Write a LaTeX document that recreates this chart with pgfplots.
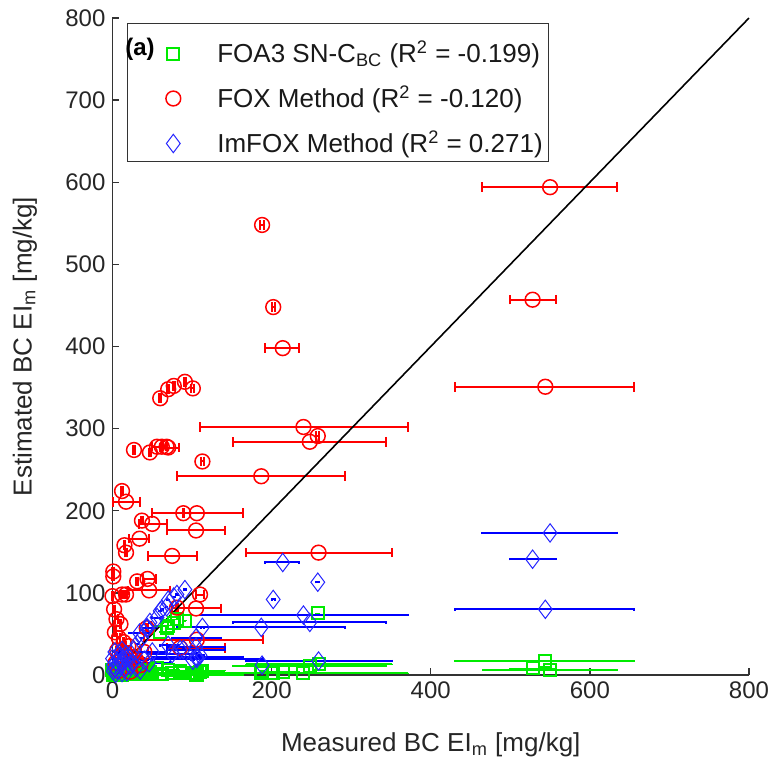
\documentclass[border=0pt]{standalone}
\usepackage{fontspec}
\setmainfont{Liberation Sans}
\usepackage{pgfplots}
\pgfplotsset{compat=1.18}
\usepackage{pgfplotstable}
\definecolor{mgreen}{RGB}{0,235,0}

\pgfplotstableread{
x y xm xp
550 594 85 84
528 457 29 29
544 351 114 112
240 302 130 131
248 284 97 96
258 291 2 2
214 398 22 21
202 448 2 2
188 548 2 2
187 242 106 105
259 149 91 92
113 260 2 2
60 337 1 1
70 348 1 1
77 352 1 1
91 357 1 1
101 349 2 2
27 274 1 1
47 271 1 1
56 278 6 6
62 278 1 1
68 278 1 1
70 277 10 14
12 224 1 1
17 211 16 17
106 197 56 58
89 197 1 1
37 188 1 1
50 184 17 18
105 176 37 37
34 166 13 12
15 158 1 1
17 149 1 1
75 145 30 31
1 126 1 1
1 120 1 1
31 114 1 1
44 117 6 11
46 103 26 26
0 96 1 1
12 98 1 1
17 98 1 1
110 98 5 5
105 81 30 32
81 82 1 1
106 43 66 83
85 33 17 56
43 57 1 1
2 80 1 1
5 68 2 2
10 62 1 1
3 52 1 1
8 45 2 2
14 40 1 1
20 35 3 3
6 30 1 1
12 25 2 2
25 22 5 5
30 18 2 2
4 15 1 1
18 10 4 4
35 12 6 6
8 5 1 1
22 4 3 3
40 28 4 4
}\redtab

\pgfplotstableread{
x y xm xp
550 173 85 84
528 141 29 29
544 80 114 112
240 73 130 131
248 64 97 96
258 113 2 2
214 137 22 21
202 92 2 2
188 12 2 2
187 58 106 105
259 17 91 92
113 58 2 2
60 78 1 1
70 91 1 1
77 95 1 1
91 104 1 1
101 18 2 2
27 30 1 1
47 64 1 1
56 70 6 6
62 80 1 1
68 83 1 1
70 36 10 14
12 14 1 1
17 20 16 17
106 22 56 58
89 31 1 1
37 45 1 1
50 28 17 18
105 34 37 37
34 51 13 12
15 8 1 1
17 25 1 1
75 26 30 31
1 5 1 1
1 12 1 1
31 38 1 1
44 57 6 11
46 15 26 26
0 20 1 1
12 3 1 1
17 10 1 1
110 24 5 5
105 45 30 32
81 98 1 1
106 20 66 83
85 31 17 56
43 57 1 1
2 8 1 1
5 16 2 2
10 22 1 1
3 28 1 1
8 12 2 2
14 18 1 1
20 22 3 3
6 6 1 1
12 30 2 2
25 14 5 5
30 9 2 2
4 2 1 1
18 4 4 4
35 6 6 6
8 26 1 1
22 12 3 3
40 18 4 4
}\bluetab

\pgfplotstableread{
x y xm xp
550 6 85 84
528 8 29 29
544 17 114 112
240 2 130 131
248 11 97 96
258 75 2 2
214 4 22 21
202 3 2 2
188 5 2 2
187 2 106 105
259 13 91 92
113 5 2 2
60 52 1 1
70 60 1 1
77 63 1 1
91 66 1 1
101 3 2 2
27 2 1 1
47 4 1 1
56 8 6 6
62 1 1 1
68 57 1 1
70 6 10 14
12 2 1 1
17 5 16 17
106 0 56 58
89 2 1 1
37 3 1 1
50 1 17 18
105 0 37 37
34 4 13 12
15 1 1 1
17 3 1 1
75 2 30 31
1 0 1 1
1 4 1 1
31 2 1 1
44 6 6 11
46 2 26 26
0 6 1 1
12 0 1 1
17 2 1 1
110 4 5 5
105 2 30 32
81 68 1 1
106 3 66 83
85 5 17 56
43 3 1 1
2 2 1 1
5 1 2 2
10 3 1 1
3 5 1 1
8 2 2 2
14 1 1 1
20 4 3 3
6 0 1 1
12 6 2 2
25 1 5 5
30 3 2 2
4 1 1 1
18 2 4 4
35 1 6 6
8 0 1 1
22 2 3 3
40 5 4 4
}\greentab

\begin{document}
\begin{tikzpicture}
\begin{axis}[
  name=ax, at={(0,0)}, anchor=south west,
  scale only axis, width=318.25pt, height=328.5pt,
  xmin=0, xmax=800, ymin=0, ymax=800,
  axis lines=left,
  axis line style={-, black!80, line width=0.7pt},
  xtick={0,200,...,800}, ytick={0,100,...,800},
  tick align=inside, major tick length=3.5pt,
  tick style={black!80, line width=0.7pt},
  ticklabel style={font=\fontsize{12}{14}\selectfont, text=black!85},
  /pgf/number format/assume math mode=true,
  xlabel={Measured BC EI\textsubscript{m} [mg/kg]},
  ylabel={Estimated BC EI\textsubscript{m} [mg/kg]},
  label style={font=\fontsize{13}{15}\selectfont, text=black!85},
  xlabel style={at={(axis description cs:0.5,-0.1065)}, anchor=center},
  ylabel style={at={(axis description cs:-0.1375,0.5)}, anchor=center},
  clip=false,
  legend style={at={(axis description cs:0.0225,0.9924)}, anchor=north west,
    draw=black!80, line width=0.5pt, fill=white,
    font=\fontsize{13}{15}\selectfont, text=black!90,
    inner xsep=2pt, inner ysep=3.5pt, row sep=5.5pt,
    nodes={inner sep=1pt, text height=15pt, text depth=0pt}},
  legend cell align=left,
  legend image code/.code={\path[draw=none] (0pt,-2pt) rectangle (42pt,2pt);
     \draw[#1] plot coordinates {(21pt,-3pt)};},
]
\addplot[color=mgreen, only marks, mark=square, mark size=3pt,
  mark options={solid, draw=mgreen, line width=1pt, fill=none},
  error bars/.cd, x dir=both, x explicit,
  error bar style={mgreen, line width=0.9pt}, error mark=|,
  error mark options={mgreen, line width=0.9pt, mark size=0.3pt}]
  table[x=x, y=y, x error minus=xm, x error plus=xp]{\greentab};
\addlegendentry{FOA3 SN-C\textsubscript{BC} (R\textsuperscript{2} = -0.199)}
\addplot[color=red, only marks, mark=o, mark size=3.7pt,
  mark options={solid, draw=red, line width=0.75pt, fill=none},
  error bars/.cd, x dir=both, x explicit,
  error bar style={red, line width=1pt}, error mark=|,
  error mark options={red, line width=1pt, mark size=2.4pt}]
  table[x=x, y=y, x error minus=xm, x error plus=xp]{\redtab};
\addlegendentry{FOX Method (R\textsuperscript{2} = -0.120)}
\addplot[color=blue, only marks, mark=diamond, mark size=4.6pt,
  mark options={solid, draw=blue!85!white, line width=0.5pt, fill=none},
  error bars/.cd, x dir=both, x explicit,
  error bar style={blue, line width=1pt}, error mark=|,
  error mark options={blue, line width=1pt, mark size=0.6pt}]
  table[x=x, y=y, x error minus=xm, x error plus=xp]{\bluetab};
\addlegendentry{ImFOX Method (R\textsuperscript{2} = 0.271)}
\addplot[black, line width=0.8pt, forget plot] coordinates {(0,0) (800,800)};
\end{axis}
\node[font=\bfseries\fontsize{12}{14}\selectfont, text=black] at (13.75pt,313pt) {(a)};
\pgfresetboundingbox
\path[use as bounding box] (-56.25pt,-43pt) rectangle (330.25pt,337.5pt);
\end{tikzpicture}
\end{document}
